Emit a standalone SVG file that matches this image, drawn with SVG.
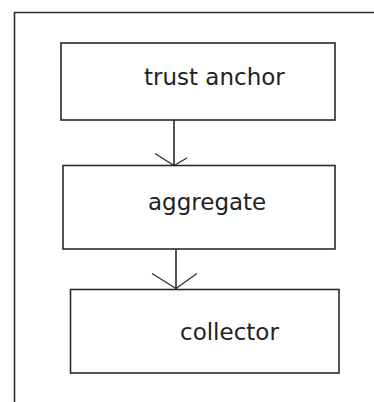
<svg xmlns="http://www.w3.org/2000/svg" width="374" height="402" viewBox="0 0 374 402">
  <style>
    .frame { fill: none; stroke: #2a2a2a; stroke-width: 1.6; }
    .box { fill: #ffffff; stroke: #2a2a2a; stroke-width: 1.6; }
    .label { font-family: "DejaVu Sans", "Liberation Sans", sans-serif; font-size: 23px; fill: #222222; }
    .wire { fill: none; stroke: #2a2a2a; stroke-width: 1.6; }
    .head { fill: none; stroke: #2a2a2a; stroke-width: 1.2; }
  </style>
  <rect width="374" height="402" fill="#ffffff"/>
  <!-- page frame, open on the right and bottom -->
  <path class="frame" d="M14.5 402 V12.5 H374"/>

  <g id="trust-anchor">
    <rect class="box" x="61" y="43" width="274" height="77"/>
    <text class="label" x="144" y="85">trust anchor</text>
  </g>

  <g id="aggregate">
    <rect class="box" x="63" y="165.5" width="272" height="83.5"/>
    <text class="label" x="148" y="210">aggregate</text>
  </g>

  <g id="collector">
    <rect class="box" x="70.5" y="289.5" width="268.5" height="83.5"/>
    <text class="label" x="180" y="340">collector</text>
  </g>

  <g id="connectors">
    <line class="wire" x1="174" y1="120" x2="174" y2="165.5"/>
    <polyline class="head" points="155,153.5 174,165.5 187,158"/>
    <line class="wire" x1="176" y1="249" x2="176" y2="289.5"/>
    <polyline class="head" points="152,273.5 176,288.5 197,273.5"/>
  </g>
</svg>
